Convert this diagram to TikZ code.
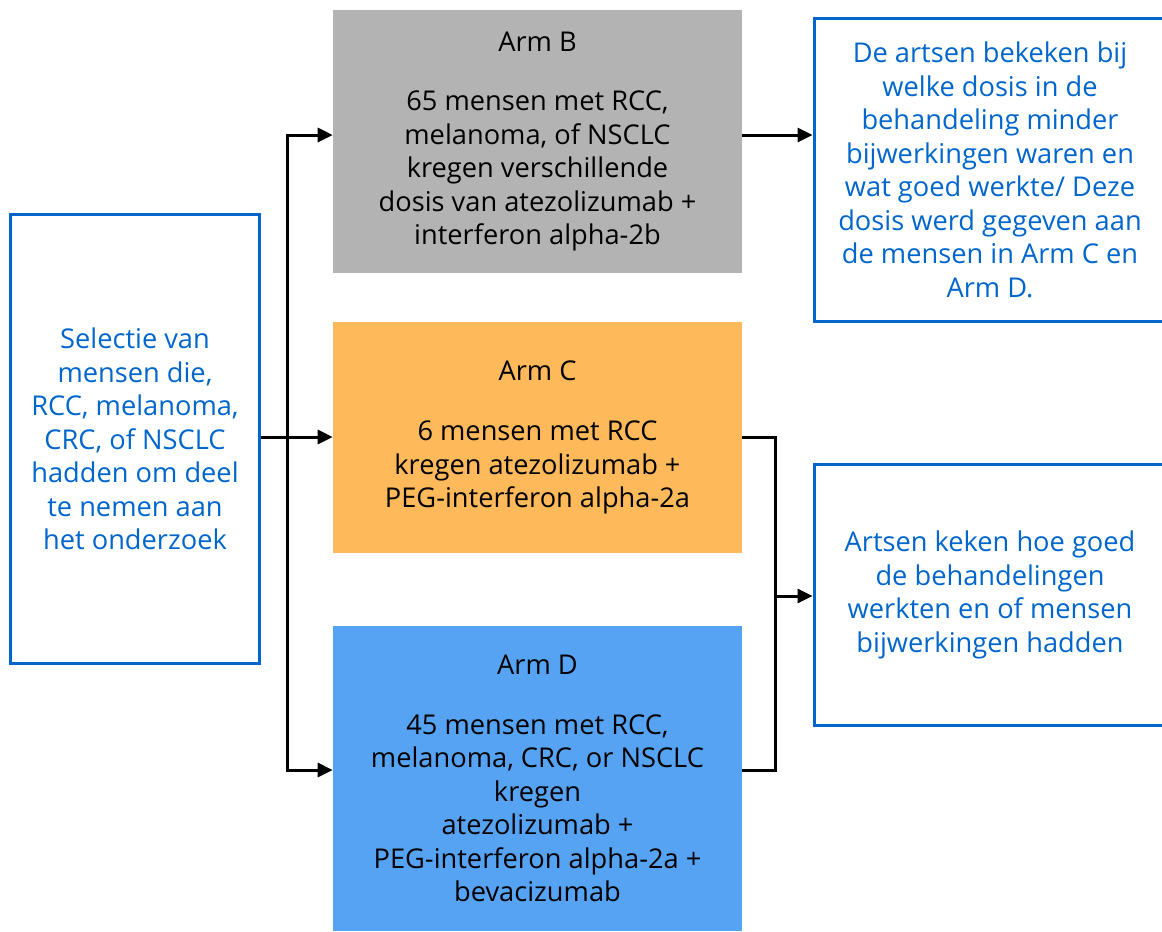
\documentclass[tikz,border=0pt]{standalone}
\usepackage{fontspec}
\setmainfont{Open Sans}
\usetikzlibrary{arrows.meta}
\definecolor{selblue}{HTML}{0066CC}
\definecolor{armgray}{HTML}{B3B3B3}
\definecolor{armorange}{HTML}{FDB95A}
\definecolor{armblue}{HTML}{56A3F4}

\begin{document}
\begin{tikzpicture}[>={Triangle[length=0.3cm,width=0.28cm]},x=0.02cm,y=-0.02cm,
  txt/.style={align=center,font=\fontsize{15.5}{19.07}\selectfont,inner sep=0pt},
  bluebox/.style={txt,draw=selblue,line width=0.06cm,text=selblue},
  armbox/.style={txt,minimum width=8.18cm,text=black},
  link/.style={line width=0.06cm}]
  \useasboundingbox (0,0) rectangle (1162,931);
  \begin{scope}
    \clip (0,0) rectangle (1162,931);
    % left: selection
    \node[bluebox,minimum width=5cm,minimum height=9cm] (sel) at (135,439)
      {Selectie van\\mensen die,\\RCC, melanoma,\\CRC, of NSCLC\\hadden om deel\\te nemen aan\\het onderzoek};
    % the three arms
    \node[armbox,fill=armgray,minimum height=5.26cm] (armB) at (537.5,141.5)
      {Arm B\\[15pt]65 mensen met RCC,\\melanoma, of NSCLC\\kregen verschillende\\dosis van atezolizumab +\\interferon alpha-2b};
    \node[armbox,fill=armorange,minimum height=4.62cm] (armC) at (537.5,437.5)
      {Arm C\\[15pt]6 mensen met RCC\\kregen atezolizumab +\\PEG-interferon alpha-2a};
    \node[armbox,fill=armblue,minimum height=6.1cm] (armD) at (537.5,778.5)
      {Arm D\\[15pt]45 mensen met RCC,\\melanoma, CRC, or NSCLC\\kregen\\atezolizumab +\\PEG-interferon alpha-2a +\\bevacizumab};
    % right: outcomes
    \node[bluebox,minimum width=7.04cm,minimum height=6.08cm] (dose) at (990,170)
      {De artsen bekeken bij\\welke dosis in de\\behandeling minder\\bijwerkingen waren en\\wat goed werkte/ Deze\\dosis werd gegeven aan\\de mensen in Arm C en\\Arm D.};
    \node[bluebox,minimum width=7.04cm,minimum height=5.24cm] (result) at (990,595)
      {Artsen keken hoe goed\\de behandelingen\\werkten en of mensen\\bijwerkingen hadden};
  \end{scope}
  % connectors
  \coordinate (split) at (287,437);
  \coordinate (join) at (775,596);
  \draw[link] (sel.east |- split) -- (split);
  \draw[link,->] (split) |- (armB.west |- 0,135);
  \draw[link,->] (split) -- (armC.west |- split);
  \draw[link,->] (split) |- (armD.west |- 0,770);
  \draw[link,->] (armB.east |- 0,135) -- (dose.west |- 0,135);
  \draw[link] (armC.east |- split) -| (join);
  \draw[link] (armD.east |- 0,770) -| (join);
  \draw[link,->] (join) -- (result.west |- join);
\end{tikzpicture}
\end{document}
